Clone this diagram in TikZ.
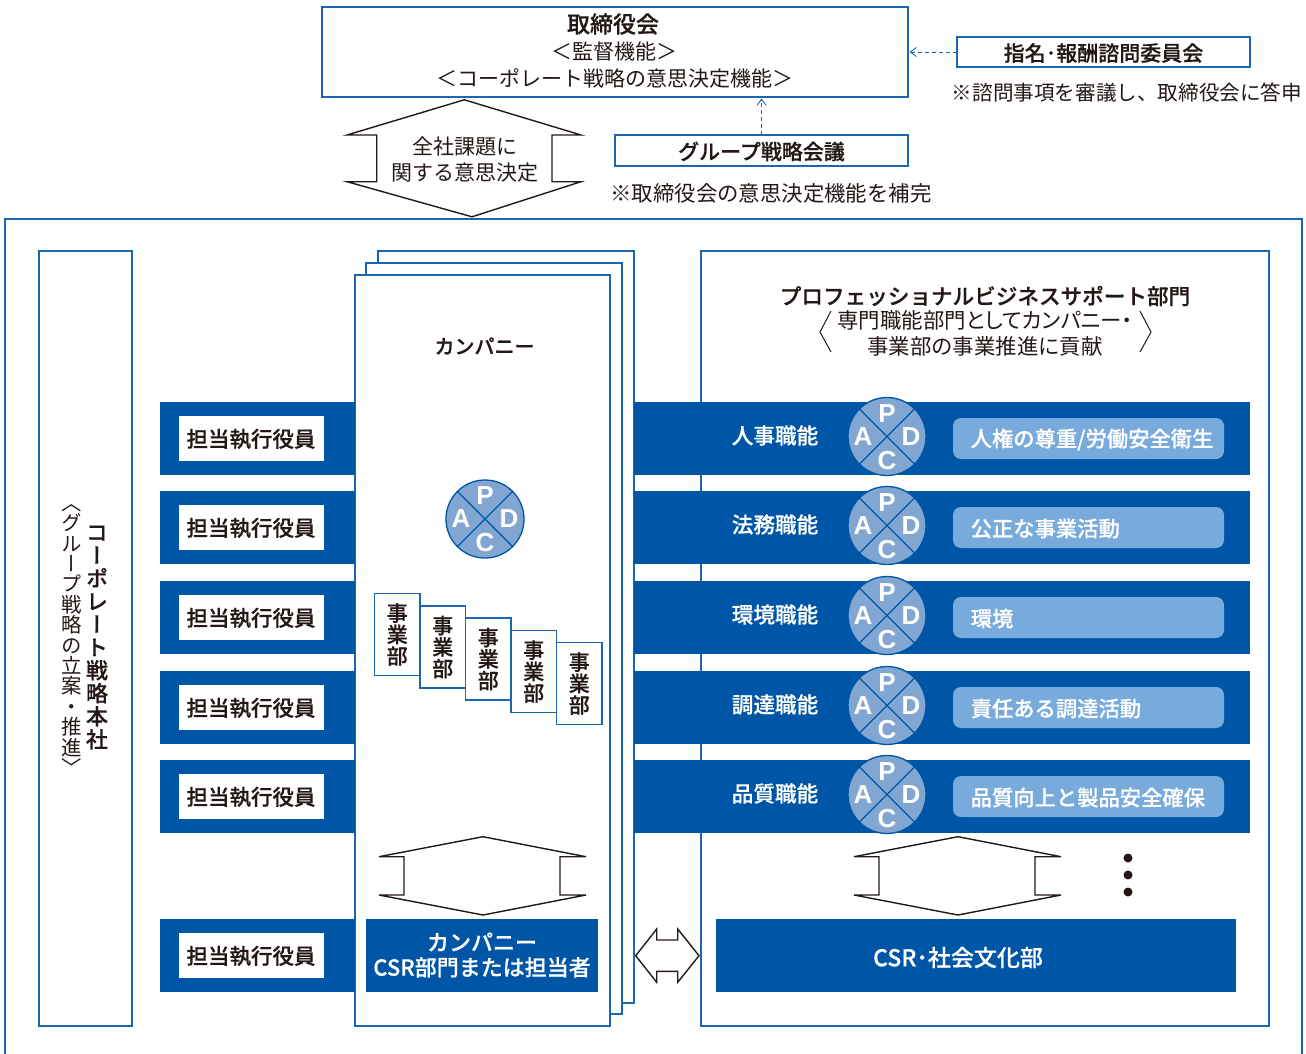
\documentclass[tikz,border=0pt]{standalone}
\usetikzlibrary{arrows.meta}
\usepackage{fontspec}
\setmainfont{Noto Sans CJK JP}
\newfontfamily\medfont[FakeBold=0.5]{Noto Sans CJK JP Medium}
\newfontfamily\vfont[RawFeature={+vert}]{Noto Sans CJK JP}
\newfontfamily\vmedfont[RawFeature={+vert},FakeBold=0.5]{Noto Sans CJK JP Medium}
\newfontfamily\paltfont[RawFeature={+palt}]{Noto Sans CJK JP}
\newfontfamily\latinfont{Liberation Sans}
\setlength{\lineskiplimit}{-5pt}
\definecolor{barblue}{HTML}{0056A6}
\definecolor{edgeblue}{HTML}{1A66B2}
\definecolor{pillblue}{HTML}{78AADC}
\definecolor{discblue}{HTML}{80A6D1}
\definecolor{inkdark}{HTML}{231815}
\tikzset{
	linebox/.style={draw=edgeblue, line width=1.6pt, fill=white, rectangle, inner sep=0pt, outer sep=0pt},
	txt/.style={text=inkdark, inner sep=0pt, font=\fontsize{21}{26}\selectfont, align=center},
	txtb/.style={txt, font=\fontsize{21}{26}\selectfont\medfont},
	whitetxt/.style={text=white, inner sep=0pt, align=center, font=\fontsize{21.6}{25}\selectfont\medfont},
	vtxt/.style={text=inkdark, inner sep=0pt, align=center},
	hollow/.style={draw=inkdark, line width=1.4pt, fill=white, line join=miter},
	pdcadisc/.style={circle, draw=barblue, line width=1.3pt, fill=discblue, minimum size=78pt, inner sep=0pt, outer sep=0pt},
	pdcaletter/.style={text=white, inner sep=0pt, font=\fontsize{26}{26}\selectfont\latinfont\bfseries},
	link/.style={-{Straight Barb[length=6pt,width=9pt]}, dash pattern=on 4pt off 3pt, draw=edgeblue, line width=0.9pt, shorten >=1.5pt}
}
\newcommand{\pdca}[3]{
	\node[pdcadisc] (#1) at (#2,#3) {};
	\draw[barblue, line width=1.3pt] (#1.45) -- (#1.225);
	\draw[barblue, line width=1.3pt] (#1.135) -- (#1.315);
	\node[pdcaletter] (#1p) at (#2,#3-23) {P};
	\node[pdcaletter] (#1a) at (#2-24,#3) {A};
	\node[pdcaletter] (#1d) at (#2+24,#3) {D};
	\node[pdcaletter] (#1c) at (#2,#3+24) {C};
}
\newcommand{\twoway}[1]{
	\draw[hollow, shift={(#1,0)}] (0,856.7) -- (104,836.7) -- (207,856.7) -- (181,856.7) -- (181,895) -- (207,895) -- (104,915) -- (0,895) -- (25,895) -- (25,856.7) -- cycle;
}
\begin{document}
\begin{tikzpicture}[x=1pt, y=-1pt]
	\useasboundingbox (0,0) rectangle (1306,1054);

	%board
	\node[linebox, minimum width=586pt, minimum height=90pt] (board) at (615,52) {};
	\node[txt, font=\fontsize{23}{26}\selectfont\medfont] (boardname) at (613,24) {取締役会};
	\node[txt] (boardrole) at (614,52) {＜監督機能＞};
	\node[txt] (boarddecide) at (615,78) {＜コーポレート戦略の意思決定機能＞};

	\node[linebox, minimum width=293pt, minimum height=30pt] (advisory) at (1103.5,52) {};
	\node[txtb] at (1103.5,53) (advisoryname) {指名･報酬諮問委員会};
	\node[txt, font=\fontsize{20.6}{26}\selectfont] (advisorynote) at (1127,93) {※諮問事項を審議し、取締役会に答申};
	\node[linebox, minimum width=293pt, minimum height=31pt] (strategy) at (761.5,150.5) {};
	\node[txtb] at (761.5,151.5) (strategyname) {グループ戦略会議};
	\node[txt, font=\fontsize{21.4}{26}\selectfont] (strategynote) at (771,193) {※取締役会の意思決定機能を補完};
	\draw[link] (advisory.west) -- (advisory.west -| board.east);
	\draw[link] (strategy.north) -- (strategy.north |- board.south);

	\draw[hollow] (347,135) -- (464.3,99.8) -- (581,135) -- (552,135) -- (552,181.7) -- (581,181.7) -- (472,216.8) -- (347,181.7) -- (376.7,181.7) -- (376.7,135) -- cycle;
	\node[txt] (decision) at (464.5,160) {全社課題に\\関する意思決定};

	%group frame
	\draw[edgeblue, line width=1.6pt] (5,1056) -- (5,219) -- (1302,219) -- (1302,1056);

	%corporate head office
	\node[linebox, minimum width=93pt, minimum height=775pt] (corporate) at (85.5,638.5) {};
	\node[vtxt, font=\fontsize{22}{23}\selectfont\vmedfont] (corporatename) at (97,637.5)
		{コ\\ー\\ポ\\レ\\ー\\ト\\戦\\略\\本\\社};
	\node[vtxt, font=\fontsize{20.4}{20.4}\selectfont\vfont] (corporaterole) at (72,640)
		{〈\\グ\\ル\\ー\\プ\\戦\\略\\の\\立\\案\\・\\推\\進\\〉};

	%support panel
	\node[linebox, minimum width=568pt, minimum height=775pt] (support) at (985,638.5) {};
	\node[txtb, font=\fontsize{21.6}{26}\selectfont\medfont] (supportname) at (985,296) {プロフェッショナルビジネスサポート部門};
	\node[txt, font=\fontsize{21.4}{26}\selectfont] (supportrole) at (985,333) {{\paltfont 専門職能部門としてカンパニー・}\\事業部の事業推進に貢献};
	\draw[inkdark, line width=1pt] (831,311) -- (820,332) -- (831,352);
	\draw[inkdark, line width=1pt] (1140,311) -- (1151,332) -- (1140,352);

	%company sheets
	\node[linebox, minimum width=256pt, minimum height=752pt] (sheetc) at (506,627) {};
	\node[linebox, minimum width=256pt, minimum height=751pt] (sheetb) at (494,638.5) {};
	\node[linebox, minimum width=255pt, minimum height=751pt] (sheeta) at (482.5,650.5) {};
	\node[txtb, font=\fontsize{20}{26}\selectfont\medfont] (company) at (484.5,346) {カンパニー};
	\pdca{cycle}{485}{519}

	\foreach \n/\y/\f/\t in {hr/402/人事職能/{人権の尊重/労働安全衛生}, legal/491/法務職能/公正な事業活動, env/581/環境職能/環境, proc/671/調達職能/責任ある調達活動, qual/760/品質職能/品質向上と製品安全確保}{
		\fill[barblue] (160,\y) rectangle +(195,73);
		\fill[barblue] (634,\y) rectangle +(616,73);
		\node[fill=white, minimum width=145pt, minimum height=45pt, inner sep=0pt] (officer\n) at (251.5,\y+36.5) {};
		\node[txtb, font=\fontsize{21.5}{26}\selectfont\medfont] (officertxt\n) at (251,\y+37) {担当執行役員};
		\node[whitetxt] (func\n) at (775,\y+33.5) {\f};
		\pdca{cycle\n}{887}{\y+34.5}
		\node[fill=pillblue, rounded corners=8pt, minimum width=271pt, minimum height=41pt, inner sep=0pt] (pill\n) at (1088.5,\y+36.5) {};
		\node[whitetxt, anchor=west, font=\fontsize{21.3}{25}\selectfont\medfont] (goal\n) at (970.5,\y+37.5) {\t};
	}

	%divisions
	\foreach \n/\x/\y/\w in {one/374.5/593.5/45.5, two/420/606/45.5, three/465.5/618/45.5, four/511/630.5/45.5, five/556.5/642.5/45.5}{
		\node[linebox, anchor=north west, minimum width=\w pt, minimum height=82pt] (div\n) at (\x,\y) {};
		\node[vtxt, font=\fontsize{21}{21.5}\selectfont\medfont] (divtxt\n) at (div\n) {事\\業\\部};
	}

	%csr row
	\twoway{379}
	\twoway{854}
	\fill[barblue] (160,919) rectangle (355,992);
	\node[fill=white, minimum width=145pt, minimum height=45pt, inner sep=0pt] (officercsr) at (251.5,955.5) {};
	\node[txtb, font=\fontsize{21.5}{26}\selectfont\medfont] (officertxtcsr) at (251,956) {担当執行役員};
	\node[fill=barblue, minimum width=232pt, minimum height=73pt, inner sep=0pt] (companycsr) at (482,955.5) {};
	\node[whitetxt, font=\fontsize{22}{25}\selectfont\medfont] (companycsrtxt) at (482,955) {カンパニー\\CSR部門または担当者};
	\node[fill=barblue, minimum width=520pt, minimum height=73pt, inner sep=0pt] (dept) at (976,955.5) {};
	\node[whitetxt, font=\fontsize{23}{25}\selectfont\medfont] (depttxt) at (958,957.5) {CSR･社会文化部};
	\draw[hollow] (635.7,955.7) -- (656.7,929) -- (656.7,940) -- (677.7,940) -- (677.7,929) -- (699,955.7) -- (677.7,982.3) -- (677.7,971.3) -- (656.7,971.3) -- (656.7,982.3) -- cycle;

	\foreach \y in {858, 875, 892}{
		\fill[inkdark] (1128,\y) circle (4.5);
	}
\end{tikzpicture}
\end{document}
